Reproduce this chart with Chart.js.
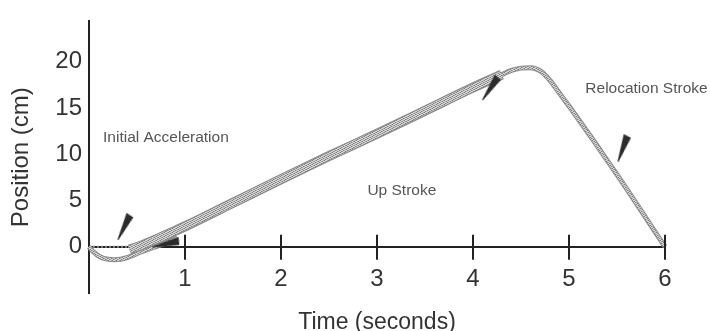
<!DOCTYPE html>
<html lang="en">
<head>
<meta charset="utf-8" />
<title>Position over time</title>
<script src="https://cdn.jsdelivr.net/npm/chart.js@4.4.1/dist/chart.umd.min.js"></script>
<style>
  html, body { margin: 0; padding: 0; background: #fff; }
  #wrap { width: 710px; height: 331px; }
</style>
</head>
<body>
<div id="wrap"><canvas id="chart"></canvas></div>
<script>
// small dip before the stroke starts
const dipTime = [0, 0.04, 0.08, 0.14, 0.2, 0.26, 0.33, 0.42, 0.52, 0.62, 0.72, 0.82, 0.92];
const dipPos = [0, -0.5, -0.85, -1.2, -1.35, -1.4, -1.35, -1.1, -0.65, -0.25, 0.1, 0.5, 0.95];

// up stroke (thick band)
const upTime = [0.42, 0.55, 0.7, 0.85, 1.0, 1.5, 2.0, 2.5, 3.0, 3.5, 4.0, 4.3];
const upPos = [-0.3, 0.15, 0.8, 1.5, 2.2, 4.75, 7.3, 9.8, 12.2, 14.7, 17.2, 18.6];

// relocation stroke
const relTime = [4.28, 4.4, 4.5, 4.6, 4.7, 4.8, 4.9, 5.0, 5.5, 6.0];
const relPos = [18.5, 19.05, 19.3, 19.35, 19.0, 18.0, 16.6, 15.2, 7.8, 0];

// dotted rest line at zero
const restTime = [0, 0.45];
const restPos = [0, 0];

// arrowheads
const arrowTime = [0.365, 0.8, 4.18, 5.56];
const arrowPos = [2.1, 0.3, 17.1, 10.6];
const arrowAngle = [26, 77, 34, 20];

// notes
const noteText = ["Initial Acceleration", "Up Stroke", "Relocation Stroke"];
const noteTime = [0.146, 2.9, 5.17];
const notePos = [11.3, 5.6, 16.6];

const xTicks = [1, 2, 3, 4, 5, 6];
const yTicks = [0, 5, 10, 15, 20];

const pts = (xs, ys) => xs.map((x, i) => ({ x: x, y: ys[i] }));

const canvas = document.getElementById("chart");
const ctx = canvas.getContext("2d");

// speckled grey fill for the stroke bands
function makeStipple() {
    const grid = ["DLLM", "LMDL", "MLLD", "LDML"];
    const shade = { D: "#7a7a7a", M: "#a9a9a9", L: "#d8d8d8" };
    const c = document.createElement("canvas");
    c.width = 4;
    c.height = 4;
    const g = c.getContext("2d");
    grid.forEach((row, j) => {
        row.split("").forEach((k, i) => {
            g.fillStyle = shade[k];
            g.fillRect(i, j, 1, 1);
        });
    });
    return ctx.createPattern(c, "repeat");
}

function makeWedge() {
    const c = document.createElement("canvas");
    c.width = 10;
    c.height = 28;
    const g = c.getContext("2d");
    g.fillStyle = "#2b2b2b";
    g.beginPath();
    g.moveTo(1, 0);
    g.lineTo(9, 1);
    g.lineTo(5.5, 28);
    g.lineTo(4.5, 28);
    g.closePath();
    g.fill();
    return c;
}

const stipple = makeStipple();
const wedge = makeWedge();

// tick marks that cross the time axis
const crossTicks = {
    id: "crossTicks",
    afterDatasetsDraw(chart) {
        const { ctx, scales: { x, y } } = chart;
        const y0 = y.getPixelForValue(0);
        ctx.save();
        ctx.strokeStyle = "#222";
        ctx.lineWidth = 2;
        x.ticks.forEach((t) => {
            const px = x.getPixelForValue(t.value);
            ctx.beginPath();
            ctx.moveTo(px, y0 - 12);
            ctx.lineTo(px, y0 + 13);
            ctx.stroke();
        });
        ctx.restore();
    },
};

const notes = {
    id: "notes",
    afterDraw(chart) {
        const { ctx, scales: { x, y } } = chart;
        ctx.save();
        ctx.font = '15.5px "Liberation Sans", Arial, sans-serif';
        ctx.fillStyle = "#555";
        ctx.textAlign = "left";
        ctx.textBaseline = "alphabetic";
        noteText.forEach((s, i) => {
            ctx.fillText(s, x.getPixelForValue(noteTime[i]), y.getPixelForValue(notePos[i]));
        });
        ctx.restore();
    },
};

Chart.defaults.font.family = '"Liberation Sans", Arial, Helvetica, sans-serif';

const thinLine = { pointRadius: 0, cubicInterpolationMode: "monotone", clip: false };

new Chart(ctx, {
    type: "line",
    data: {
        datasets: [
            {
                data: pts(arrowTime, arrowPos),
                showLine: false,
                pointStyle: wedge,
                pointRadius: 5,
                pointRotation: arrowAngle,
                order: 0,
                clip: false,
            },
            { ...thinLine, data: pts(upTime, upPos), borderColor: stipple, borderWidth: 7.5, order: 1 },
            { ...thinLine, data: pts(upTime, upPos), borderColor: "#8a8a8a", borderWidth: 10, order: 2 },
            { ...thinLine, data: pts(dipTime, dipPos), borderColor: stipple, borderWidth: 3, order: 3 },
            { ...thinLine, data: pts(dipTime, dipPos), borderColor: "#8a8a8a", borderWidth: 5, order: 4 },
            { ...thinLine, data: pts(relTime, relPos), borderColor: stipple, borderWidth: 3, order: 3 },
            { ...thinLine, data: pts(relTime, relPos), borderColor: "#8a8a8a", borderWidth: 5, order: 4 },
            { ...thinLine, data: pts(restTime, restPos), borderColor: "#888", borderWidth: 2, borderDash: [2, 2], order: 5 },
        ],
    },
    options: {
        responsive: true,
        maintainAspectRatio: false,
        animation: false,
        devicePixelRatio: 1,
        layout: { padding: { top: 10, right: 45, bottom: 38, left: 0 } },
        plugins: { legend: { display: false }, tooltip: { enabled: false } },
        scales: {
            x: {
                type: "linear",
                min: 0,
                max: 6,
                position: { y: 0 },
                afterBuildTicks: (s) => { s.ticks = xTicks.map((v) => ({ value: v })); },
                grid: { drawOnChartArea: false, drawTicks: false },
                border: { color: "#222", width: 2 },
                ticks: { padding: 20.4, color: "#333", font: { size: 24, lineHeight: 1 }, maxRotation: 0 },
                title: { display: true, text: "Time (seconds)", color: "#333", font: { size: 23, lineHeight: 1 }, padding: { top: 0, bottom: 0 } },
            },
            y: {
                type: "linear",
                min: -5,
                max: 24.35,
                afterBuildTicks: (s) => { s.ticks = yTicks.map((v) => ({ value: v })); },
                afterFit: (s) => { s.width = 89; },
                grid: { drawOnChartArea: false, drawTicks: false },
                border: { color: "#222", width: 2 },
                ticks: { padding: 7, color: "#333", font: { size: 24 } },
                title: { display: true, text: "Position (cm)", color: "#333", font: { size: 24 }, padding: { top: 7, bottom: 0 } },
            },
        },
    },
    plugins: [crossTicks, notes],
});
</script>
</body>
</html>
